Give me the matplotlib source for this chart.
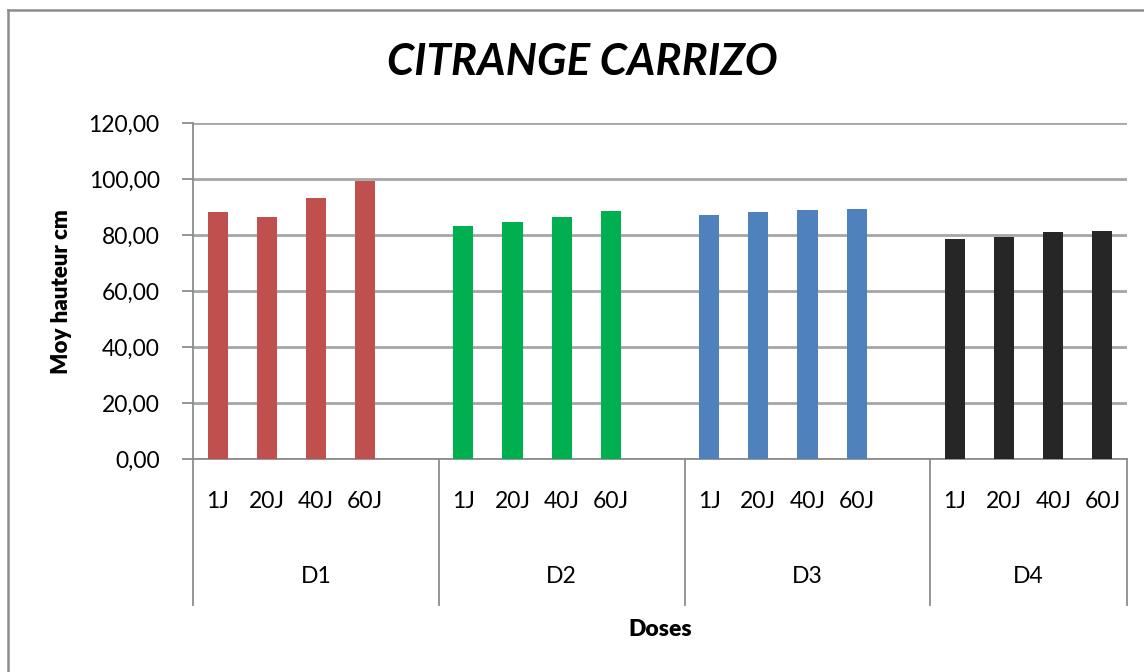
import numpy as np
import matplotlib
matplotlib.use("Agg")
import matplotlib.pyplot as plt
from matplotlib.lines import Line2D

plt.rcParams['font.family'] = ['Lato', 'DejaVu Sans']

doses = ['D1', 'D2', 'D3', 'D4']
jours = ['1J', '20J', '40J', '60J']
d1 = [88.3, 86.5, 93.3, 99.4]
d2 = [83.3, 84.8, 86.5, 88.7]
d3 = [87.4, 88.3, 89.0, 89.4]
d4 = [78.7, 79.4, 81.2, 81.5]
colors = ['#C0504D', '#00B050', '#4F81BD', '#262626']

W, H = 1144, 672
fig = plt.figure(figsize=(W / 100, H / 100), dpi=100)
ax = fig.add_axes([193 / W, 1 - 459.3 / H, (1127 - 193) / W, (459.3 - 123.3) / H])

# each dose group takes 5 slots (4 bars + an empty one)
for g, vals in enumerate([d1, d2, d3, d4]):
    x = g * 5 + np.arange(4) + 0.5
    ax.bar(x, vals, width=0.41, color=colors[g], zorder=3)
    for xi, lab in zip(x, jours):
        ax.text(xi, -0.125, lab, transform=ax.get_xaxis_transform(),
                ha='center', va='center', fontsize=16.5)
    right = min(g * 5 + 5, 19)
    ax.text((g * 5 + right) / 2, -0.35, doses[g], transform=ax.get_xaxis_transform(),
            ha='center', va='center', fontsize=16.5)

# separators below the axis
for xs in [0, 5, 10, 15, 19]:
    ax.plot([xs, xs], [0, -0.435], transform=ax.get_xaxis_transform(),
            color='#8C8C8C', lw=1.3, clip_on=False)

ax.set_xlim(0, 19)
ax.set_ylim(0, 120)
ax.set_yticks(np.arange(0, 121, 20))
ax.set_yticklabels(['%d,00' % v for v in range(0, 121, 20)], fontsize=16.5)
ax.set_xticks([])
ax.tick_params(axis='y', length=8, width=1.3, color='#8C8C8C', pad=16)
ax.grid(axis='y', color='#A6A6A6', lw=2, zorder=0)
for s in ['top', 'right']:
    ax.spines[s].set_visible(False)
for s in ['left', 'bottom']:
    ax.spines[s].set_color('#8C8C8C')
    ax.spines[s].set_linewidth(1.3)

ax.set_ylabel('Moy hauteur cm', fontsize=16, fontweight='heavy')
ax.yaxis.set_label_coords((72 - 193) / (1127 - 193), 0.5)
fig.text(660 / W, 1 - 630 / H, 'Doses', ha='center', va='center',
         fontsize=16.5, fontweight='heavy')
fig.text(582 / W, 1 - 62 / H, 'CITRANGE CARRIZO', ha='center', va='center',
         fontsize=31.5, fontweight='bold', style='italic')

# chart border (cut at right and bottom)
fig.add_artist(Line2D([8 / W, 8 / W], [0, 1 - 10 / H], color='#8C8C8C', lw=1.8))
fig.add_artist(Line2D([8 / W, 1], [1 - 10 / H, 1 - 10 / H], color='#8C8C8C', lw=1.8))

fig.savefig('out.png', dpi=100)
